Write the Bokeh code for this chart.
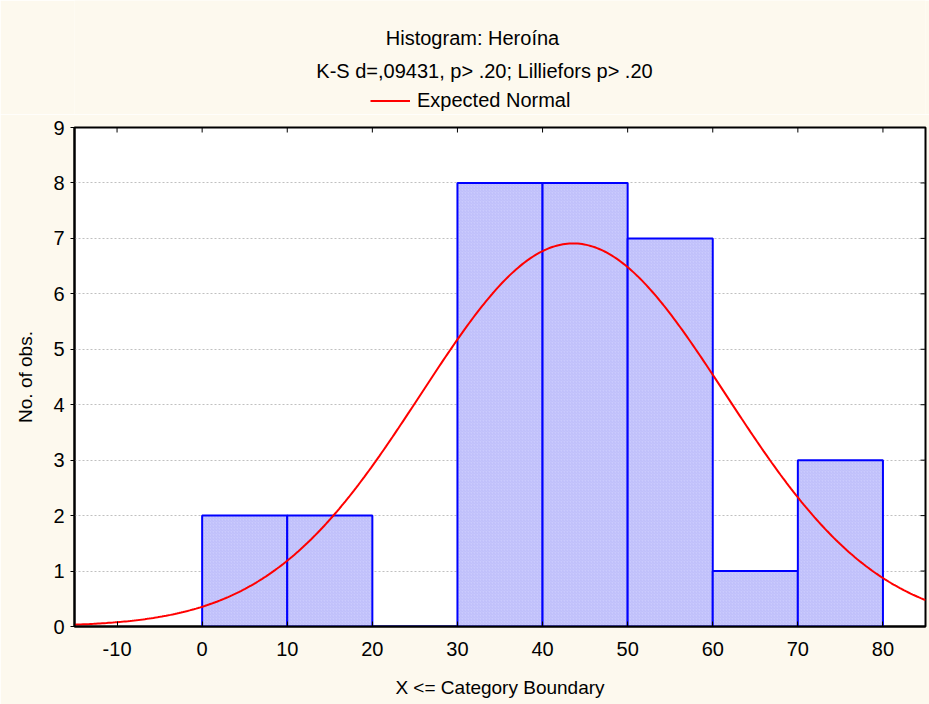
import numpy as np
from bokeh.plotting import figure
from bokeh.layouts import column
from bokeh.models import (LinearAxis, Legend, LegendItem, FixedTicker,
                          ColumnDataSource, Range1d)
from bokeh.core.properties import value
from bokeh.embed import file_html
from bokeh.resources import INLINE

# ---- data ----
bin_left = [0, 10, 20, 30, 40, 50, 60, 70]
bin_right = [10, 20, 30, 40, 50, 60, 70, 80]
counts = [2, 2, 0, 8, 8, 7, 1, 3]
x_ticks = [-10, 0, 10, 20, 30, 40, 50, 60, 70, 80]
y_ticks = [0, 1, 2, 3, 4, 5, 6, 7, 8, 9]
x_min, x_max = -15, 85
y_min, y_max = 0, 9

# expected normal parameters (fitted curve)
n_obs = sum(counts)
bin_width = 10
mean_est = 43.6
sd_est = 17.9

title_text = "Histogram: Heroína"
subtitle_text = "K-S d=,09431, p> .20; Lilliefors p> .20"
legend_text = "Expected Normal"
x_label = "X <= Category Boundary"
y_label = "No. of obs."

FONT = "Liberation Sans"
CREAM = "#fdf9ee"
RED = "#ff0000"

W = 929
HEAD_H = 114
MAIN_H = 590
BORDER_L = 74
BORDER_R = 4

# ---------------- header (titles + legend) ----------------
# header coordinates are page pixels: x from the left edge, y from the top
head = figure(width=W, height=HEAD_H, output_backend="svg", toolbar_location=None,
              x_range=Range1d(BORDER_L, W - BORDER_R), y_range=Range1d(HEAD_H, 0),
              min_border_left=BORDER_L, min_border_right=BORDER_R, min_border_top=0,
              min_border_bottom=0, x_axis_location=None, y_axis_location=None)
head.background_fill_color = CREAM
head.border_fill_color = CREAM
head.outline_line_color = None
head.xgrid.visible = False
head.ygrid.visible = False
head.text(x=[472, 484], y=[37, 70], text=[title_text, subtitle_text],
          text_align="center", text_baseline="middle",
          text_font=value(FONT), text_font_size=value("20px"), text_color="black")
proxy = head.line(x=[float("nan")], y=[float("nan")], line_color=RED, line_width=2)
head_legend = Legend(items=[LegendItem(label=legend_text, renderers=[proxy])],
                     location=(370 - BORDER_L, 2), orientation="horizontal",
                     padding=0, margin=0, spacing=0, glyph_width=40, glyph_height=23,
                     label_standoff=7, label_text_font=FONT,
                     label_text_font_size="20px", label_text_color="black",
                     border_line_color=None, background_fill_alpha=0)
head.add_layout(head_legend, "center")

# ---------------- main plot ----------------
p = figure(width=W, height=MAIN_H, output_backend="svg", toolbar_location=None,
           x_range=Range1d(x_min, x_max), y_range=Range1d(y_min, y_max),
           min_border_left=BORDER_L, min_border_right=BORDER_R, min_border_top=13,
           min_border_bottom=78, x_axis_location=None, y_axis_location=None)
p.border_fill_color = CREAM
p.background_fill_color = "white"
p.outline_line_color = "black"
p.outline_line_width = 2

# bars
src = ColumnDataSource(dict(left=bin_left, right=bin_right, top=counts,
                            bottom=[0] * len(counts)))
p.quad(left="left", right="right", top="top", bottom="bottom", source=src,
       fill_color="#cacafe", line_color="#0000ff", line_width=2,
       hatch_pattern="right_diagonal_line", hatch_color="#a4a4f0",
       hatch_alpha=0.6, hatch_scale=3, hatch_weight=0.6)

# expected normal curve
xs = np.linspace(x_min, x_max, 400)
ys = n_obs * bin_width / (sd_est * np.sqrt(2 * np.pi)) * np.exp(-0.5 * ((xs - mean_est) / sd_est) ** 2)
curve = p.line(xs, ys, line_color=RED, line_width=2)

# grid
p.xgrid.visible = False
p.ygrid.ticker = FixedTicker(ticks=y_ticks)
p.ygrid.grid_line_color = "#c0c0c0"
p.ygrid.grid_line_dash = "2 2"
p.ygrid.grid_line_width = 1

# inward mirror ticks on the top and right edges of the frame
p.ray(x=x_ticks, y=[y_max] * len(x_ticks), length=5, length_units="screen",
      angle=-np.pi / 2, line_color="black", line_width=1)
p.ray(x=[x_max] * len(y_ticks), y=y_ticks, length=5, length_units="screen",
      angle=np.pi, line_color="black", line_width=1)

def style_axis(ax):
    ax.axis_line_color = "black"
    ax.axis_line_width = 2
    ax.major_tick_line_color = "black"
    ax.major_tick_line_width = 1
    ax.minor_tick_line_color = None
    ax.major_label_text_font = FONT
    ax.major_label_text_font_size = "20px"
    ax.major_label_text_color = "black"
    ax.axis_label_text_font = FONT
    ax.axis_label_text_font_size = "19px"
    ax.axis_label_text_font_style = "normal"
    ax.axis_label_text_color = "black"

bottom = LinearAxis(ticker=FixedTicker(ticks=x_ticks), axis_label=x_label,
                    major_label_overrides={t: str(t) for t in x_ticks})
style_axis(bottom)
bottom.major_tick_in = 5
bottom.major_tick_out = 0
bottom.major_label_standoff = 15
bottom.axis_label_standoff = 18
p.add_layout(bottom, "below")

left = LinearAxis(ticker=FixedTicker(ticks=y_ticks), axis_label=y_label)
style_axis(left)
left.major_tick_in = 0
left.major_tick_out = 4
left.major_label_standoff = 6
left.axis_label_standoff = 14
p.add_layout(left, "left")

layout = column(head, p, spacing=0)
open("out.html", "w").write(file_html(layout, INLINE))
